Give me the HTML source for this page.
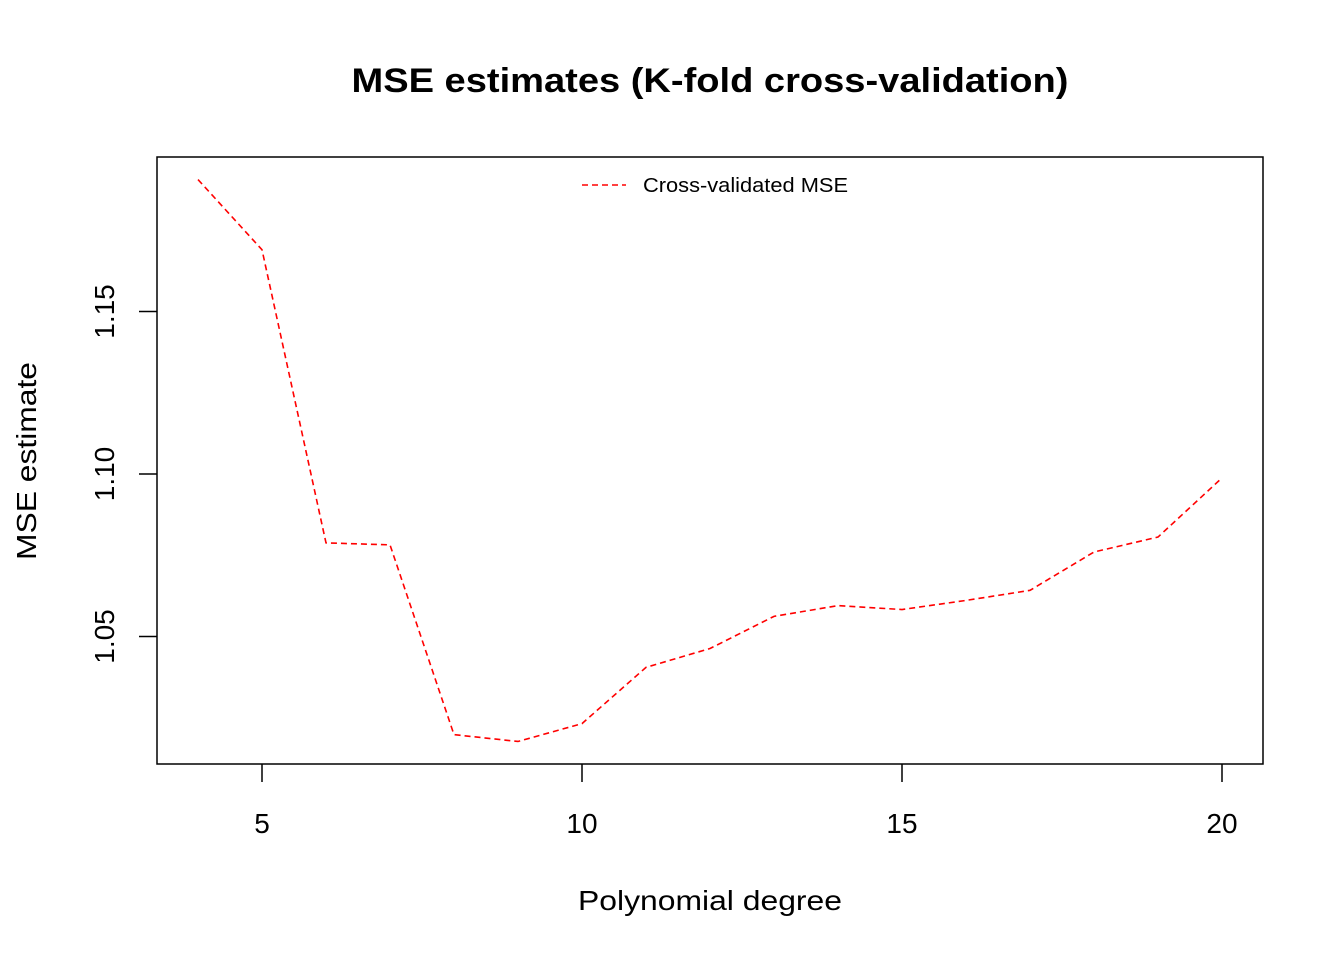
<!DOCTYPE html>
<html><head><meta charset="utf-8"><style>
body{margin:0;background:#fff;}
svg{display:block;font-family:"Liberation Sans",Arial,sans-serif;}
</style></head><body>
<svg id="chart" width="1344" height="960">
<text x="710" y="92" text-anchor="middle" font-size="34" font-weight="bold" textLength="717" lengthAdjust="spacingAndGlyphs">MSE estimates (K-fold cross-validation)</text>
<rect x="157" y="157" width="1106" height="607" fill="none" stroke="#000" stroke-width="1.5"/>
<text x="710" y="910" text-anchor="middle" font-size="28" textLength="264" lengthAdjust="spacingAndGlyphs">Polynomial degree</text>
<text transform="translate(36,461) rotate(-90)" text-anchor="middle" font-size="28" textLength="198" lengthAdjust="spacingAndGlyphs">MSE estimate</text>
<g>
<line x1="582" y1="185" x2="626" y2="185" stroke="red" stroke-width="1.5" stroke-dasharray="6,4"/>
<text x="643" y="192" font-size="20" textLength="205" lengthAdjust="spacingAndGlyphs">Cross-validated MSE</text>
</g>
<g id="axes"></g>
<path id="series" fill="none" stroke="red" stroke-width="1.6" stroke-dasharray="6,4"/>
</svg>
<script>
const degrees=[4,5,6,7,8,9,10,11,12,13,14,15,16,17,18,19,20];
const mse=[1.1906,1.169,1.0788,1.0782,1.0198,1.0177,1.0232,1.0405,1.0463,1.0562,1.0595,1.0583,1.0611,1.0642,1.076,1.0806,1.0988];
const xTicks=[5,10,15,20];
const yTicks=[1.05,1.10,1.15];
const yTickLabels=["1.05","1.10","1.15"];
function xs(v){return 262+(v-5)*64;}
function ys(v){return 474-(v-1.10)*3250;}
const ns="http://www.w3.org/2000/svg";
const g=document.getElementById('axes');
xTicks.forEach(t=>{
 const l=document.createElementNS(ns,'line');
 l.setAttribute('x1',xs(t));l.setAttribute('x2',xs(t));l.setAttribute('y1',764);l.setAttribute('y2',782);
 l.setAttribute('stroke','#000');l.setAttribute('stroke-width','1.5');
 
 
 g.appendChild(l);
 const tx=document.createElementNS(ns,'text');
 tx.setAttribute('x',xs(t));tx.setAttribute('y',833);tx.setAttribute('text-anchor','middle');tx.setAttribute('font-size','28');
 tx.textContent=t;
 
 
 g.appendChild(tx);
});
yTicks.forEach((t,i)=>{
 const l=document.createElementNS(ns,'line');
 l.setAttribute('x1',139);l.setAttribute('x2',157);l.setAttribute('y1',ys(t));l.setAttribute('y2',ys(t));
 l.setAttribute('stroke','#000');l.setAttribute('stroke-width','1.5');
 
 
 g.appendChild(l);
 const tx=document.createElementNS(ns,'text');
 tx.setAttribute('transform','translate(114,'+ys(t)+') rotate(-90)');
 tx.setAttribute('text-anchor','middle');tx.setAttribute('font-size','28');
 tx.textContent=yTickLabels[i];
 
 
 g.appendChild(tx);
});
document.getElementById('series').setAttribute('d',degrees.map((d,i)=>(i?'L':'M')+xs(d)+','+ys(mse[i])).join(' '));
</script>
</body></html>
